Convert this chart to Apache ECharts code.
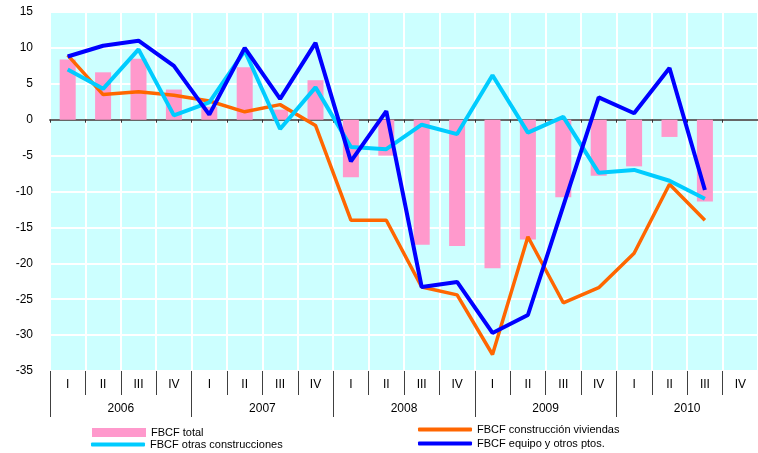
<!DOCTYPE html>
<html>
<head>
<meta charset="utf-8">
<script src="https://cdn.jsdelivr.net/npm/echarts@6/dist/echarts.min.js"></script>
<style>
    html, body { margin: 0; padding: 0; background: #fff; }
    #chart { width: 758px; height: 453px; }
</style>
</head>
<body>
<div id="chart"></div>
<script>
// datos
const quarters = ['I', 'II', 'III', 'IV', 'I', 'II', 'III', 'IV', 'I', 'II', 'III', 'IV',
    'I', 'II', 'III', 'IV', 'I', 'II', 'III', 'IV'];
const years = ['2006', '2007', '2008', '2009', '2010'];
const yTicks = { min: -35, max: 15, interval: 5 };

const fbcfTotal = [8.4, 6.6, 8.5, 4.2, 1.8, 7.3, 1.4, 5.5, -8.0, -5.0, -17.4, -17.6,
    -20.7, -16.7, -10.8, -7.8, -6.5, -2.4, -11.4, null];
const fbcfViviendas = [9.0, 3.5, 3.9, 3.4, 2.6, 1.1, 2.1, -0.8, -14.0, -14.0, -23.3, -24.4,
    -32.7, -16.3, -25.5, -23.4, -18.6, -9.0, -14.0, null];
const fbcfOtras = [7.0, 4.3, 9.8, 0.6, 2.4, 9.6, -1.3, 4.5, -3.8, -4.1, -0.7, -2.0,
    6.2, -1.8, 0.4, -7.4, -7.0, -8.5, -11.0, null];
const fbcfEquipo = [8.8, 10.3, 11.0, 7.5, 0.7, 10.0, 2.9, 10.7, -5.8, 1.2, -23.3, -22.6,
    -29.7, -27.2, -12.0, 3.1, 0.9, 7.2, -9.8, null];

const font = 'Liberation Sans, Arial, sans-serif';
const sepColor = '#404040';

const legendText = { fontFamily: font, fontSize: 11, color: '#000' };
// una leyenda por serie, para colocarlas como en el original
function legendAt(name, left, top, icon, h) {
    return {
        data: [name], left: left, top: top, orient: 'vertical',
        icon: icon, itemWidth: 54, itemHeight: h, padding: 0, itemGap: 0,
        textStyle: legendText, selectedMode: false
    };
}

const option = {
    animation: false,
    backgroundColor: '#fff',
    grid: {
        left: 50, top: 12, width: 716, height: 359,
        show: true, backgroundColor: '#ccffff', borderWidth: 0
    },
    legend: [
        legendAt('FBCF total', 92, 427, 'rect', 9),
        legendAt('FBCF otras construcciones', 91, 439, 'roundRect', 4),
        legendAt('FBCF construcción viviendas', 418, 424, 'roundRect', 4),
        legendAt('FBCF equipo y otros ptos.', 418, 438, 'roundRect', 4)
    ],
    xAxis: [
        {   // trimestres
            type: 'category', data: quarters, position: 'bottom',
            axisLine: { show: false, onZero: false },
            axisTick: { show: true, length: 24, lineStyle: { color: sepColor } },
            axisLabel: { margin: 8, fontFamily: font, fontSize: 12, color: '#000' },
            splitLine: { show: true, lineStyle: { color: '#fff', width: 2 } }
        },
        {   // años
            type: 'category', data: years, position: 'bottom',
            axisLine: { show: false, onZero: false },
            axisTick: { show: true, length: 46, lineStyle: { color: sepColor } },
            axisLabel: { margin: 32, fontFamily: font, fontSize: 12, color: '#000' },
            splitLine: { show: false }
        },
        {   // linea del cero
            type: 'category', data: quarters, position: 'bottom',
            axisLine: { show: true, onZero: true, lineStyle: { color: '#666', width: 2 } },
            axisTick: { show: true, length: 3, lineStyle: { color: '#333' } },
            axisLabel: { show: false },
            splitLine: { show: false }
        }
    ],
    yAxis: {
        type: 'value',
        min: yTicks.min, max: yTicks.max, interval: yTicks.interval,
        axisLine: { show: false },
        axisTick: { show: false },
        axisLabel: { margin: 17, fontFamily: font, fontSize: 12, color: '#000' },
        splitLine: { show: true, lineStyle: { color: '#fff', width: 2 } }
    },
    series: [
        {
            name: 'FBCF total', type: 'bar', data: fbcfTotal, xAxisIndex: 0,
            barWidth: 16, itemStyle: { color: '#ff99cc' }
        },
        {
            name: 'FBCF construcción viviendas', type: 'line', data: fbcfViviendas, xAxisIndex: 0,
            symbol: 'none', lineStyle: { color: '#ff6600', width: 3.5 }, itemStyle: { color: '#ff6600' }
        },
        {
            name: 'FBCF otras construcciones', type: 'line', data: fbcfOtras, xAxisIndex: 0,
            symbol: 'none', lineStyle: { color: '#00ccff', width: 4 }, itemStyle: { color: '#00ccff' }
        },
        {
            name: 'FBCF equipo y otros ptos.', type: 'line', data: fbcfEquipo, xAxisIndex: 0,
            symbol: 'none', lineStyle: { color: '#0000ff', width: 4 }, itemStyle: { color: '#0000ff' }
        }
    ]
};

const myChart = echarts.init(document.getElementById('chart'));
myChart.setOption(option);
</script>
</body>
</html>
